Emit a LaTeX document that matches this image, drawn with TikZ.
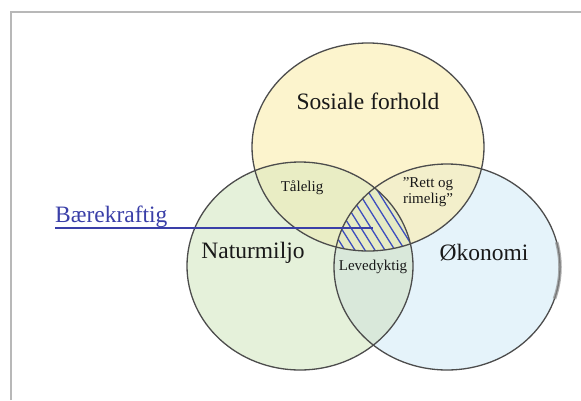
\documentclass[tikz,border=0pt]{standalone}
\usepackage{fontspec}
\setmainfont{Liberation Serif}
\begin{document}
\begin{tikzpicture}[x=1pt,y=-1pt,
  outline/.style={draw=black!70, line width=1.3pt},
  biglabel/.style={font=\fontsize{23.5}{25}\selectfont, text=black!90, inner sep=0},
  smalllabel/.style={font=\fontsize{15}{16}\selectfont, text=black!90, inner sep=0, align=center},
  hatchline/.style={draw=hatchblue, line width=1.3pt},
  frameline/.style={draw=black!28, line width=1.6pt}
]
\definecolor{yel}{HTML}{FCF4CD}
\definecolor{grn}{HTML}{E5F1DA}
\definecolor{blu}{HTML}{E5F3FA}
\definecolor{yelgrn}{HTML}{E9EDC4}
\definecolor{yelblu}{HTML}{F3EFCB}
\definecolor{grnblu}{HTML}{D9E8DA}
\definecolor{allthree}{HTML}{E6EBC4}
\definecolor{hatchblue}{HTML}{3E4FBE}
\definecolor{linkblue}{HTML}{3A3FA8}

\useasboundingbox (0,0) rectangle (581,400);
\fill[white] (0,0) rectangle (581,400);

% frame
\draw[frameline] (11,400) -- (11,12) -- (581,12);

% ellipse shapes
\def\topell{(368,147) ellipse [x radius=116, y radius=104]}
\def\leftell{(300,266) ellipse [x radius=113, y radius=104]}
\def\rightell{(447,267) ellipse [x radius=113, y radius=103]}

% base fills
\fill[yel] \topell;
\fill[grn] \leftell;
\fill[blu] \rightell;
% pairwise overlaps
\begin{scope}\clip \topell; \fill[yelgrn] \leftell; \end{scope}
\begin{scope}\clip \topell; \fill[yelblu] \rightell; \end{scope}
\begin{scope}\clip \leftell; \fill[grnblu] \rightell; \end{scope}
% common area with hatching
\begin{scope}
  \clip \topell; \clip \leftell; \clip \rightell;
  \fill[allthree] (250,140) rectangle (480,300);
  \foreach \i in {0,...,22} {
    \draw[hatchline] (232+\i*10,150) -- ++(88,140);
  }
\end{scope}

% outlines
\draw[outline] \topell;
\draw[outline] \leftell;
\draw[outline] \rightell;
% darker smudge along the right edge of the economy circle
\draw[black!45, line width=3.5pt, opacity=0.7]
  (447,267) ++(-18:113 and -103) arc[start angle=-18, end angle=14, x radius=113, y radius=-103];

% labels
\node[biglabel] (sos) at (368,101) {Sosiale forhold};
\node[biglabel] (nat) at (253,253) {Naturmiljo};
\node[biglabel] (oko) at (484,253) {Økonomi};
\node[smalllabel] (taal) at (302,188) {Tålelig};
\node[smalllabel] (rett) at (428,192) {"Rett og\\rimelig"};
\node[smalllabel] (leve) at (373,267) {Levedyktig};

% sustainability label and pointer
\node[font=\fontsize{23.5}{25}\selectfont, text=linkblue, inner sep=0, anchor=base west] (bk) at (55,222) {Bærekraftig};
\coordinate (bkend) at (373,228);
\draw[linkblue, line width=1.5pt] ([yshift=-6pt]bk.base west) -- (bkend);
\end{tikzpicture}
\end{document}
